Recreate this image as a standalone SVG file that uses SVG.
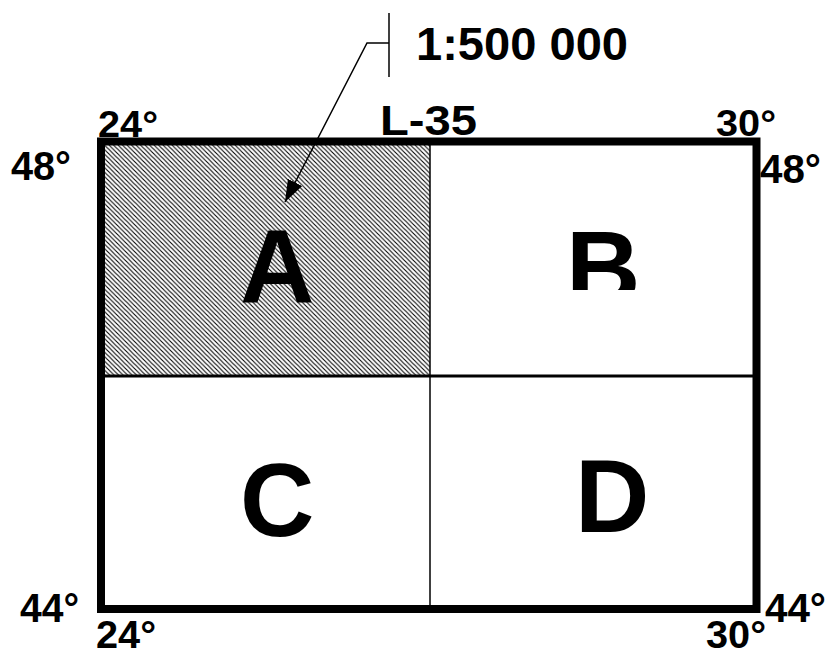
<svg xmlns="http://www.w3.org/2000/svg" width="829" height="655" viewBox="0 0 829 655">
  <defs>
    <pattern id="hatch" patternUnits="userSpaceOnUse" width="4.5" height="4.5">
      <path d="M0,0 L4.5,4.5 M-1,3.5 L1,5.5 M3.5,-1 L5.5,1" stroke="#000" stroke-width="1.1"/>
    </pattern>
    <marker id="arrow" markerWidth="22" markerHeight="16" refX="22" refY="8" orient="auto" markerUnits="userSpaceOnUse">
      <path d="M0,0 L22,8 L0,16 Z" fill="#000"/>
    </marker>
    <clipPath id="clipB">
      <rect x="540" y="200" width="140" height="90"/>
    </clipPath>
  </defs>
  <style>
    text { font-family: "Liberation Sans", Arial, sans-serif; font-weight: bold; fill: #000; }
    .deg { font-size: 40px; }
    .big { font-size: 103px; }
    .thin { stroke: #000; fill: none; }
  </style>
  <rect width="829" height="655" fill="#fff"/>

  <g id="sheet-A">
    <rect x="101" y="141.5" width="329" height="234.5" fill="url(#hatch)"/>
    <text class="big" x="240" y="302">A</text>
  </g>
  <g id="sheet-B">
    <text class="big" x="566" y="304" clip-path="url(#clipB)">B</text>
  </g>
  <g id="sheet-C">
    <text class="big" x="240" y="536">C</text>
  </g>
  <g id="sheet-D">
    <text class="big" x="575" y="532">D</text>
  </g>

  <g id="grid">
    <line x1="101" y1="376" x2="756.5" y2="376" stroke="#000" stroke-width="3"/>
    <line x1="430" y1="141.5" x2="430" y2="609" stroke="#000" stroke-width="1.5"/>
    <rect x="101" y="141.5" width="655.5" height="467.5" fill="none" stroke="#000" stroke-width="8"/>
  </g>

  <g id="labels">
    <text class="deg" x="98" y="137" style="font-size:37px" textLength="60" lengthAdjust="spacingAndGlyphs">24°</text>
    <text class="deg" x="716" y="136" style="font-size:37px" textLength="60" lengthAdjust="spacingAndGlyphs">30°</text>
    <text x="380" y="135" style="font-size:42px" textLength="97" lengthAdjust="spacingAndGlyphs">L-35</text>
    <text class="deg" x="11" y="180" textLength="60" lengthAdjust="spacingAndGlyphs">48°</text>
    <text class="deg" x="760" y="183" textLength="61" lengthAdjust="spacingAndGlyphs">48°</text>
    <text class="deg" x="20" y="622" textLength="59" lengthAdjust="spacingAndGlyphs">44°</text>
    <text class="deg" x="765" y="622" textLength="61" lengthAdjust="spacingAndGlyphs">44°</text>
    <text class="deg" x="96" y="648" style="font-size:38px" textLength="60" lengthAdjust="spacingAndGlyphs">24°</text>
    <text class="deg" x="706" y="648" style="font-size:38px" textLength="60" lengthAdjust="spacingAndGlyphs">30°</text>
    <text x="416" y="60" style="font-size:46px" textLength="212" lengthAdjust="spacingAndGlyphs">1:500 000</text>
  </g>

  <g id="connectors">
    <line class="thin" x1="389" y1="13" x2="389" y2="77" stroke-width="1.5"/>
    <polyline class="thin" points="389,43 367,43 285,202" stroke-width="1.5" marker-end="url(#arrow)"/>
  </g>
</svg>
